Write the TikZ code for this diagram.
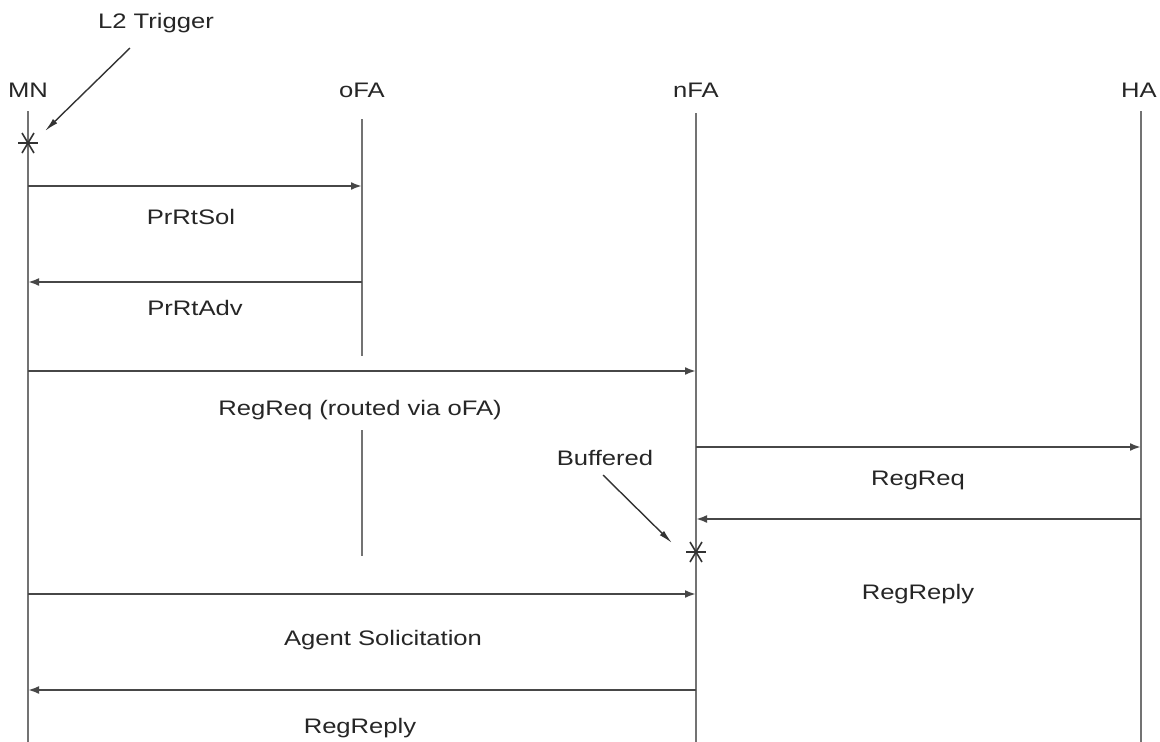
\documentclass[tikz,border=0pt]{standalone}
\usepackage{fontspec}
\usepackage{graphicx}
\setmainfont{Liberation Sans}
\usetikzlibrary{arrows.meta,calc}
\newcommand{\wide}[1]{\scalebox{1.22}[1]{#1}}
\tikzset{
  lbl/.style={inner sep=0pt, font=\fontsize{21}{24}\selectfont, text=black!85},
  life/.style={draw=black!55, line width=2.3pt},
  msg/.style={draw=black!72, line width=2.2pt, -{Latex[length=11pt,width=8pt]}},
  note/.style={draw=black!80, line width=1.4pt, -{Latex[length=14pt,width=6pt]}},
  starln/.style={draw=black!80, line width=1.6pt}
}
\begin{document}
\begin{tikzpicture}[x=1pt,y=-1pt]
\useasboundingbox[fill=white] (0,0) rectangle (1160,742);

% entity headers
\node[lbl] (mnT)  at (28,90)   {\wide{MN}};
\node[lbl] (ofaT) at (362,90)  {\wide{oFA}};
\node[lbl] (nfaT) at (696,90)  {\wide{nFA}};
\node[lbl] (haT)  at (1139,90) {\wide{HA}};

% lifeline end points
\coordinate (mn0) at (28,111);   \coordinate (mn1) at (28,742);
\coordinate (ofa0) at (362,119); \coordinate (ofa1) at (362,356);
\coordinate (ofa2) at (362,430); \coordinate (ofa3) at (362,556);
\coordinate (nfa0) at (696,113); \coordinate (nfa1) at (696,742);
\coordinate (ha0) at (1141,111); \coordinate (ha1) at (1141,742);

\draw[life] (mn0) -- (mn1);
\draw[life] (ofa0) -- (ofa1);
\draw[life] (ofa2) -- (ofa3);
\draw[life] (nfa0) -- (nfa1);
\draw[life] (ha0) -- (ha1);

% event marks on the lifelines
\coordinate (trig) at (28,143);
\coordinate (buf) at (696,552);
\foreach \p in {trig,buf}{
  \draw[starln] ($(\p)+(-10,0)$) -- ($(\p)+(10,0)$);
  \draw[starln] ($(\p)+(-6,-10)$) -- ($(\p)+(6,10)$);
  \draw[starln] ($(\p)+(-6,10)$) -- ($(\p)+(6,-10)$);
}

% annotations
\node[lbl] (l2) at (156,23) {\wide{L2 Trigger}};
\coordinate (l2s) at (130,48);
\coordinate (l2e) at (45,131);
\draw[note] (l2s) -- (l2e);
\node[lbl] (bf) at (605,458) {\wide{Buffered}};
\coordinate (bfs) at (603,475);
\coordinate (bfe) at (672,543);
\draw[note] (bfs) -- (bfe);

% message end points
\coordinate (m1a) at (28,186);  \coordinate (m1b) at (362,186);
\coordinate (m2a) at (362,282); \coordinate (m2b) at (28,282);
\coordinate (m3a) at (28,371);  \coordinate (m3b) at (696,371);
\coordinate (m4a) at (696,447); \coordinate (m4b) at (1141,447);
\coordinate (m5a) at (1141,519);\coordinate (m5b) at (696,519);
\coordinate (m6a) at (28,594);  \coordinate (m6b) at (696,594);
\coordinate (m7a) at (696,690); \coordinate (m7b) at (28,690);

\draw[msg] (m1a) -- (m1b);
\draw[msg] (m2a) -- (m2b);
\draw[msg] (m3a) -- (m3b);
\draw[msg] (m4a) -- (m4b);
\draw[msg] (m5a) -- (m5b);
\draw[msg] (m6a) -- (m6b);
\draw[msg] (m7a) -- (m7b);

% message labels
\node[lbl] (t1) at (191,217) {\wide{PrRtSol}};
\node[lbl] (t2) at (195,308) {\wide{PrRtAdv}};
\node[lbl] (t3) at (360,410) {\wide{RegReq (routed via oFA)}};
\node[lbl] (t4) at (918,480) {\wide{RegReq}};
\node[lbl] (t5) at (918,594) {\wide{RegReply}};
\node[lbl] (t6) at (383,640) {\wide{Agent Solicitation}};
\node[lbl] (t7) at (360,728) {\wide{RegReply}};
\end{tikzpicture}
\end{document}
